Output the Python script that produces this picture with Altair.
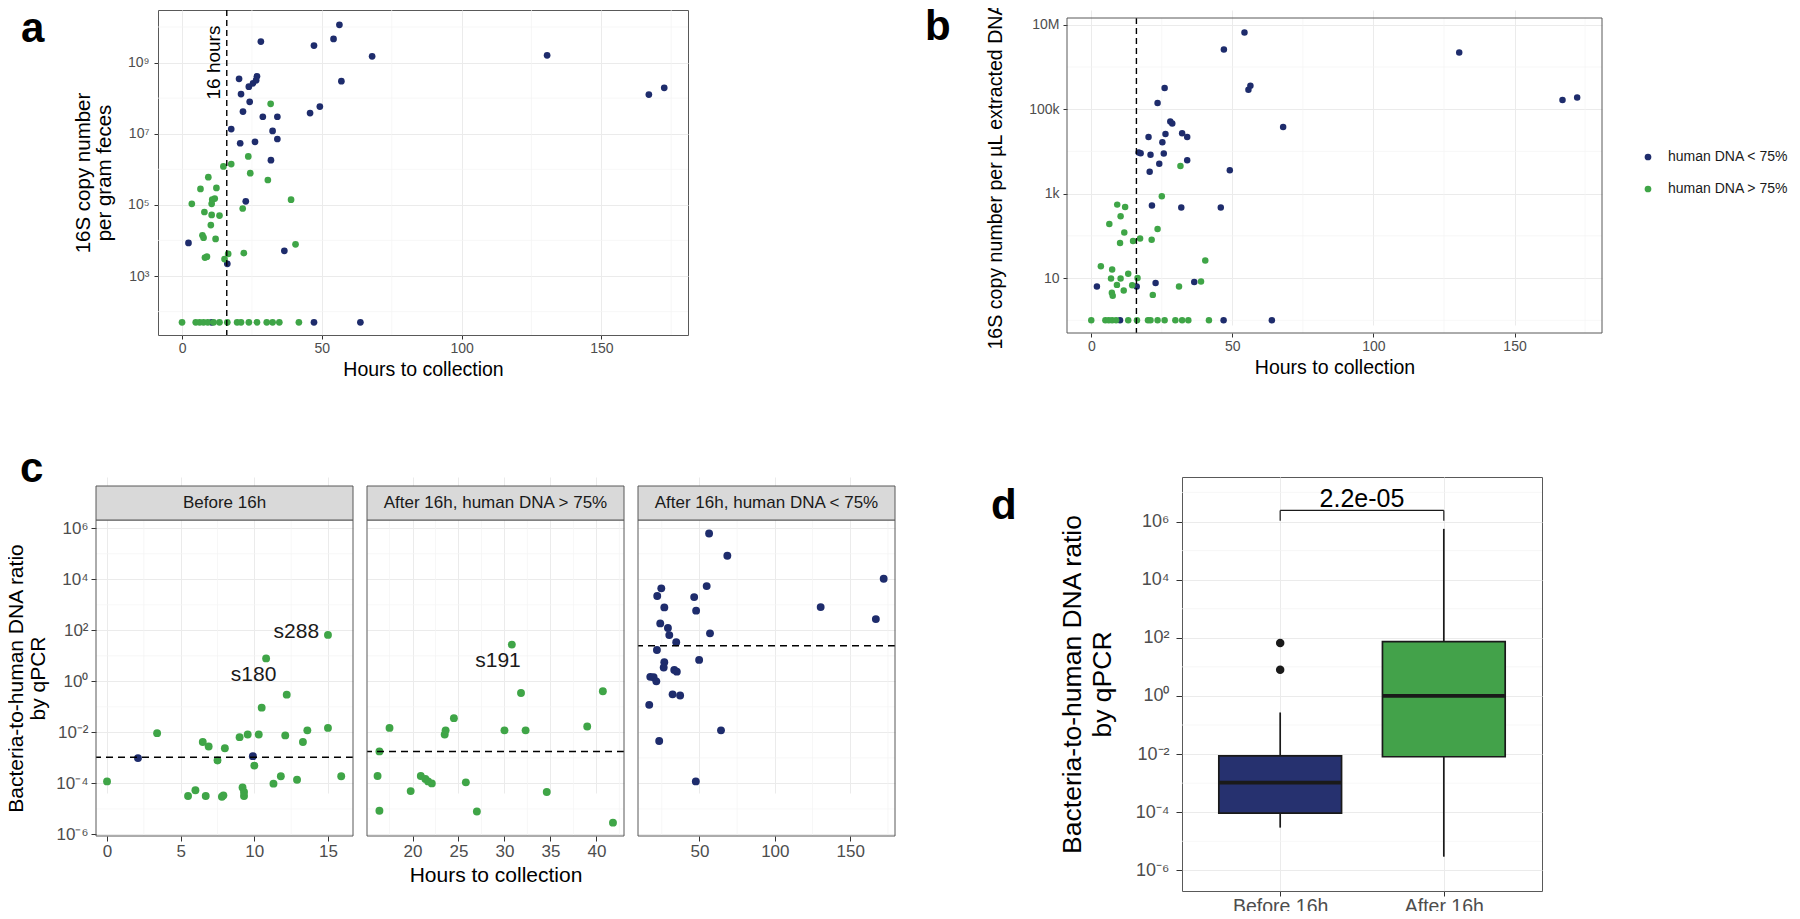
import altair as alt
import pandas as pd

FONT = "Liberation Sans"
BLUE = "#1e2c6c"
GREEN = "#3fa547"
BOX_BLUE = "#26316f"
BOX_GREEN = "#43a24a"
GRID = "#ebebeb"
GRID_MINOR = "#f3f3f3"
FRAME = "#595959"
TEXT_GREY = "#4d4d4d"

# ---------------- panel a : 16S copies per gram feces ----------------
a_blue_hours = [56.3, 28.2, 47.2, 54.2, 68.0, 130.6, 167.0, 172.5, 57.0, 20.4,
                21.1, 23.9, 25.4, 26.5, 26.8, 24.2, 21.8, 49.3, 45.8, 28.9,
                34.1, 17.6, 32.4, 34.1, 20.8, 26.1, 31.8, 22.8, 2.3, 36.6,
                16.2, 47.2, 63.8, 10.6]
a_blue_copies = [1.15e10, 3.9e9, 3.0e9, 4.6e9, 1.5e9, 1.6e9, 1.26e8, 1.95e8, 3.0e8, 3.5e8,
                 1.3e8, 2.1e8, 2.6e8, 3.2e8, 4.1e8, 7.9e7, 4.2e7, 5.8e7, 3.8e7, 3.0e7,
                 3.0e7, 1.35e7, 1.2e7, 7.1e6, 5.4e6, 5.9e6, 1.8e6, 1.26e5, 8.5e3, 5.1e3,
                 2.2e3, 50, 50, 50]
a_green_hours = [31.7, 23.7, 17.6, 14.8, 24.4, 30.7, 9.4, 6.6, 12.3, 3.5,
                 10.8, 11.7, 10.6, 39.0, 21.7, 8.0, 10.6, 13.4, 10.3, 7.3,
                 7.7, 12.0, 40.6, 16.5, 22.1, 8.2, 8.9, 15.2,
                 0.0, 4.9, 6.3, 7.7, 9.2, 11.3, 13.4, 16.2, 19.7, 21.1,
                 23.9, 26.8, 30.3, 32.4, 34.8, 41.8]
a_green_copies = [6.9e7, 2.3e6, 1.4e6, 1.2e6, 7.8e5, 5.0e5, 6.0e5, 2.8e5, 3.0e5, 1.07e5,
                  1.4e5, 1.5e5, 1.07e5, 1.4e5, 7.9e4, 6.3e4, 5.2e4, 5.0e4, 2.7e4, 1.4e4,
                  1.2e4, 1.1e4, 7.8e3, 4.2e3, 4.4e3, 3.3e3, 3.5e3, 3.0e3,
                  50, 50, 50, 50, 50, 50, 50, 50, 50, 50,
                  50, 50, 50, 50, 50, 50]
a_x_ticks = [0, 50, 100, 150]
a_x_minor = [25, 75, 125, 175]
a_y_ticks = [1e3, 1e5, 1e7, 1e9]
a_y_minor = [1e2, 1e4, 1e6, 1e8, 1e10]
cutoff_hours = [16]
a_note_hours = [11.4]
a_note_value = [1e9]
a_note_text = ["16 hours"]

# ---------------- panel b : 16S copies per uL DNA ----------------
b_blue_hours = [54.3, 47.0, 26.0, 23.5, 56.4, 55.7, 68.0, 28.0, 28.7, 32.2,
                34.0, 20.3, 26.3, 25.2, 16.8, 17.5, 21.0, 25.7, 24.1, 34.0,
                20.7, 49.1, 21.5, 31.9, 45.9, 2.0, 16.1, 22.8, 36.5, 130.4,
                167.0, 172.2, 46.9, 64.0, 10.2]
b_blue_copies = [6.6e6, 2.6e6, 3.2e5, 1.4e5, 3.6e5, 2.9e5, 3.8e4, 5.1e4, 4.6e4, 2.7e4,
                 2.2e4, 2.2e4, 2.6e4, 1.66e4, 9.5e3, 9.1e3, 8.3e3, 8.9e3, 5.1e3, 6.2e3,
                 3.3e3, 3.6e3, 525, 468, 468, 6.3, 6.3, 7.6, 8.1, 2.2e6,
                 1.66e5, 1.9e5, 1, 1, 1]
b_green_hours = [31.6, 25.0, 9.2, 12.0, 10.4, 6.4, 23.5, 11.7, 17.3, 14.8,
                 10.2, 21.4, 40.4, 3.4, 7.4, 13.1, 7.0, 16.4, 10.4, 9.1,
                 14.5, 11.5, 7.3, 7.6, 38.9, 31.1, 21.8,
                 0.0, 5.0, 6.2, 7.4, 8.8, 13.1, 16.2, 20.1, 21.0, 23.5,
                 26.0, 29.8, 32.2, 34.4, 41.7]
b_green_copies = [4.5e3, 870, 550, 480, 290, 190, 145, 120, 87, 76,
                  68, 81, 26, 19, 16, 12.6, 9.8, 10, 9.8, 6.9,
                  6.8, 5.1, 4.5, 3.8, 8.3, 6.3, 4.0,
                  1, 1, 1, 1, 1, 1, 1, 1, 1, 1,
                  1, 1, 1, 1, 1]
b_y_ticks = [10, 1e3, 1e5, 1e7]
b_y_minor = [1, 1e2, 1e4, 1e6]
legend_labels = ["human DNA < 75%", "human DNA > 75%"]

# ---------------- panel c : ratio by qPCR, three facets ----------------
c_strip_labels = ["Before 16h", "After 16h, human DNA > 75%", "After 16h, human DNA < 75%"]
c_before_green_hours = [0.0, 3.4, 6.5, 6.9, 7.5, 8.0, 9.0, 9.55, 10.0, 10.3,
                        10.5, 10.8, 12.2, 12.1, 13.3, 13.6, 15.0, 15.0, 15.9, 12.9,
                        11.8, 11.3, 5.5, 6.0, 6.7, 7.8, 7.9, 9.2, 9.3, 9.3]
c_before_green_ratio = [1.2e-4, 9.3e-3, 4.2e-3, 2.8e-3, 7.9e-4, 2.4e-3, 6.5e-3, 8.3e-3, 5.0e-4, 8.3e-3,
                        9.3e-2, 7.9, 0.30, 7.6e-3, 4.2e-3, 1.2e-2, 1.5e-2, 66, 1.9e-4, 1.4e-4,
                        1.9e-4, 9.8e-5, 3.2e-5, 5.4e-5, 3.2e-5, 3.0e-5, 3.4e-5, 6.9e-5, 3.2e-5, 4.6e-5]
c_before_blue_hours = [2.1, 9.9]
c_before_blue_ratio = [9.8e-4, 1.17e-3]
c_after_high_hours = [16.4, 17.5, 16.2, 16.4, 19.8, 20.9, 21.4, 21.7, 22.1, 23.5,
                      23.6, 24.5, 25.8, 27.0, 30.8, 31.8, 30.0, 32.3, 34.6, 39.0,
                      40.7, 41.8]
c_after_high_ratio = [1.8e-3, 1.5e-2, 1.95e-4, 8.5e-6, 5.0e-5, 1.95e-4, 1.5e-4, 1.2e-4, 1.0e-4, 8.3e-3,
                      1.2e-2, 3.6e-2, 1.1e-4, 7.9e-6, 27.5, 0.35, 1.2e-2, 1.2e-2, 4.6e-5, 1.7e-2,
                      0.41, 2.9e-6]
c_after_low_hours = [56.4, 68.5, 172.2, 54.8, 24.7, 22.0, 46.5, 26.7, 130.4, 47.8,
                     24.0, 29.1, 30.0, 167.0, 57.0, 34.6, 21.8, 49.8, 26.7, 26.3,
                     33.3, 35.0, 17.4, 19.6, 21.4, 32.2, 37.2, 16.7, 64.3, 23.3,
                     47.6]
c_after_low_ratio = [6.2e5, 8.3e4, 1.05e4, 5.4e3, 4.4e3, 2.2e3, 2.0e3, 790, 810, 590,
                     186, 123, 65, 275, 76, 34, 17, 6.9, 5.6, 3.5,
                     2.8, 2.4, 1.5, 1.45, 1.0, 0.31, 0.28, 0.12, 1.2e-2, 4.6e-3,
                     1.2e-4]
c_hline = [1.07e-3, 1.78e-3, 25]
c_x_domains = [[-0.75, 16.7], [15.05, 43.0], [9.25, 179.7]]
c_x_ticks = [[0, 5, 10, 15], [20, 25, 30, 35, 40], [50, 100, 150]]
c_x_minor = [[2.5, 7.5, 12.5], [17.5, 22.5, 27.5, 32.5, 37.5, 42.5], [25, 75, 125, 175]]
c_y_ticks = [1e-6, 1e-4, 1e-2, 1, 1e2, 1e4, 1e6]
c_y_minor = [1e-5, 1e-3, 1e-1, 10, 1e3, 1e5]
c_lab1_text = ["s288", "s180"]
c_lab1_hours = [14.4, 9.95]
c_lab1_ratio = [89, 1.8]
c_lab1_align = ["right", "center"]
c_lab2_text = ["s191"]
c_lab2_hours = [29.3]
c_lab2_ratio = [6.5]

# ---------------- panel d : boxplot ----------------
d_groups = ["Before 16h", "After 16h"]
d_pos = [1, 2]
d_low = [2.95e-5, 2.95e-6]
d_q1 = [9.3e-5, 8.1e-3]
d_med = [1.05e-3, 1.0]
d_q3 = [8.7e-3, 74]
d_high = [0.27, 5.6e5]
d_outlier_pos = [1, 1]
d_outlier_val = [66, 7.9]
d_y_minor = [1e-5, 1e-3, 1e-1, 10, 1e3, 1e5, 1e7]
d_bracket_y = [2.4e6]
d_bracket_tip = [1.07e6]
d_pvalue = ["2.2e-05"]
d_pvalue_y = [5.75e6]

SUP_EXPR = ("'10' + (round(log(datum.value) / LN10) < 0 ? '\u207b' : '') + "
            "['\u2070','\u00b9','\u00b2','\u00b3','\u2074','\u2075','\u2076','\u2077','\u2078','\u2079']"
            "[abs(round(log(datum.value) / LN10))]")
SI_EXPR = ("datum.value >= 1e6 ? (datum.value / 1e6) + 'M' : "
           "datum.value >= 1e3 ? (datum.value / 1e3) + 'k' : '' + datum.value")

NO_FRAME = alt.ViewBackground(strokeOpacity=0)


def make_axis(values, title=None, labels=True, ticks=True, label_size=14, title_size=19.5,
              tick_size=4, label_padding=3, title_padding=5, label_expr=None, line_height=None):
    kw = dict(values=values, grid=True, gridColor=GRID, gridWidth=1, domain=False,
              ticks=ticks, tickColor="#333333", tickSize=tick_size, tickWidth=1,
              labels=labels, labelFontSize=label_size, labelColor=TEXT_GREY,
              labelPadding=label_padding, labelFlush=False, labelOverlap=False,
              titleFontSize=title_size, titleFontWeight="normal", titleColor="#000000",
              titlePadding=title_padding, title=title)
    if label_expr:
        kw["labelExpr"] = label_expr
    if line_height:
        kw["titleLineHeight"] = line_height
    return alt.Axis(**kw)


def pts(hours, vals, color, size, xs, ys, xax, yax):
    df = pd.DataFrame({"hours": hours, "value": vals})
    return alt.Chart(df).mark_circle(size=size, opacity=1, color=color).encode(
        x=alt.X("hours:Q", scale=xs, axis=xax),
        y=alt.Y("value:Q", scale=ys, axis=yax))


def vrules(vals, xs, xax, color, width, dash=None, span=None):
    mk = dict(color=color, strokeWidth=width)
    if dash:
        mk["strokeDash"] = dash
    enc = dict(x=alt.X("v:Q", scale=xs, axis=xax))
    if span:
        enc["y"] = alt.value(span[0])
        enc["y2"] = alt.value(span[1])
    return alt.Chart(pd.DataFrame({"v": vals})).mark_rule(**mk).encode(**enc)


def hrules(vals, ys, yax, color, width, dash=None):
    mk = dict(color=color, strokeWidth=width)
    if dash:
        mk["strokeDash"] = dash
    return alt.Chart(pd.DataFrame({"v": vals})).mark_rule(**mk).encode(
        y=alt.Y("v:Q", scale=ys, axis=yax))


def letter(t, x, y):
    return alt.Chart(pd.DataFrame({"t": [t]})).mark_text(
        fontSize=42, fontWeight="bold", color="#000000", align="left",
        baseline="alphabetic").encode(text="t:N", x=alt.value(x), y=alt.value(y))


def frame(x0, x1, y0, y1, fill=None):
    mk = dict(stroke=FRAME, strokeWidth=1)
    if fill:
        mk["fill"] = fill
    else:
        mk["fillOpacity"] = 0
    return alt.Chart(pd.DataFrame({"f": [0]})).mark_rect(**mk).encode(
        x=alt.value(x0), x2=alt.value(x1), y=alt.value(y0), y2=alt.value(y1))


def anchor(x0, y0, x1, y1):
    # invisible diagonal that fixes the layout bounds of a panel
    return alt.Chart(pd.DataFrame({"f": [0]})).mark_rule(opacity=0, strokeWidth=0.01).encode(
        x=alt.value(x0), x2=alt.value(x1), y=alt.value(y0), y2=alt.value(y1))


# ---------- panel a : plot at page (157..687, 10..335) ----------
xs_a = alt.Scale(domain=[-8.6, 181], nice=False, zero=False)
ys_a = alt.Scale(type="log", domain=[22, 3.0e10], nice=False)
xax_a = make_axis(a_x_ticks, title="Hours to collection", label_padding=2, title_padding=5)
yax_a = make_axis(a_y_ticks, title=["16S copy number", "per gram feces"], label_padding=5,
                  title_size=20.5, title_padding=13, label_expr=SUP_EXPR, line_height=21)
note_a = alt.Chart(pd.DataFrame({"hours": a_note_hours, "value": a_note_value, "label": a_note_text})
                   ).mark_text(angle=270, fontSize=19, color="#000000", align="center",
                               baseline="middle").encode(
    x=alt.X("hours:Q", scale=xs_a, axis=xax_a), y=alt.Y("value:Q", scale=ys_a, axis=yax_a),
    text="label:N")
panel_a = alt.layer(
    anchor(-149, -2, 530, 390),
    vrules(a_x_minor, xs_a, xax_a, GRID_MINOR, 0.7),
    hrules(a_y_minor, ys_a, yax_a, GRID_MINOR, 0.7),
    pts(a_blue_hours, a_blue_copies, BLUE, 45, xs_a, ys_a, xax_a, yax_a),
    pts(a_green_hours, a_green_copies, GREEN, 45, xs_a, ys_a, xax_a, yax_a),
    vrules(cutoff_hours, xs_a, xax_a, "#000000", 1.4, dash=[6, 4]),
    note_a,
    letter("a", -137, 32),
).properties(width=530, height=325)

# ---------- panel b : view at page (1065..1600, 10..333), plot from y 18 ----------
B_W, B_H, B_TOP = 535, 323, 8
xs_b = alt.Scale(domain=[-8.6, 181], nice=False, zero=False)
ys_b = alt.Scale(type="log", domain=[0.5, 1.45e7], nice=False, range=[B_H, B_TOP])
xax_b = make_axis(a_x_ticks, title="Hours to collection", label_padding=2, title_padding=5)
yax_b = make_axis(b_y_ticks, title="16S copy number per \u00b5L extracted DNA", label_padding=4,
                  title_padding=23, title_size=19.6, label_expr=SI_EXPR)
b_df = pd.DataFrame({
    "hours": b_blue_hours + b_green_hours,
    "value": b_blue_copies + b_green_copies,
    "status": [legend_labels[0]] * len(b_blue_hours) + [legend_labels[1]] * len(b_green_hours),
})
b_points = alt.Chart(b_df).mark_circle(size=42, opacity=1).encode(
    x=alt.X("hours:Q", scale=xs_b, axis=xax_b),
    y=alt.Y("value:Q", scale=ys_b, axis=yax_b),
    color=alt.Color("status:N", scale=alt.Scale(domain=legend_labels, range=[BLUE, GREEN]),
                    legend=alt.Legend(title=None, orient="none", legendX=1545, legendY=140,
                                      symbolType="circle", symbolSize=45, symbolStrokeWidth=0,
                                      labelFontSize=14, labelColor="#1a1a1a", rowPadding=18,
                                      labelOffset=13, padding=0, labelFont=FONT)))
panel_b = alt.layer(
    anchor(-467, -2, 535, 390),
    vrules(a_x_minor, xs_b, xax_b, GRID_MINOR, 0.7, span=[B_TOP, B_H]),
    hrules(b_y_minor, ys_b, yax_b, GRID_MINOR, 0.7),
    b_points,
    vrules(cutoff_hours, xs_b, xax_b, "#000000", 1.4, dash=[6, 4], span=[B_TOP, B_H]),
    frame(0, B_W, B_TOP, B_H),
    letter("b", -142, 30),
).properties(width=B_W, height=B_H, view=NO_FRAME)

# ---------- panel c : views at page y 478..837 (strip 487..521, plot 521..837) ----------
C_W, C_H, STRIP_TOP, PLOT_TOP = 257, 359, 9, 43
ys_c = alt.Scale(type="log", domain=[8.7e-7, 2.1e6], nice=False, range=[C_H, PLOT_TOP])
yax_c1 = make_axis(c_y_ticks, title=["Bacteria-to-human DNA ratio", "by qPCR"], label_size=17,
                   title_size=21, tick_size=5, label_padding=3, title_padding=7,
                   label_expr=SUP_EXPR, line_height=22)
yax_cn = make_axis(c_y_ticks, title=None, labels=False, ticks=False)

c_panels = []
for i in range(3):
    xs = alt.Scale(domain=c_x_domains[i], nice=False, zero=False)
    xax = make_axis(c_x_ticks[i], title=("Hours to collection" if i == 1 else None),
                    label_size=17, title_size=21, tick_size=5, label_padding=2, title_padding=5)
    yax = yax_c1 if i == 0 else yax_cn
    layers = [anchor(-88 if i == 0 else 0, -38, C_W, C_H),
              vrules(c_x_minor[i], xs, xax, GRID_MINOR, 0.7, span=[PLOT_TOP, C_H]),
              hrules(c_y_minor, ys_c, yax, GRID_MINOR, 0.7)]
    if i == 0:
        layers += [pts(c_before_green_hours, c_before_green_ratio, GREEN, 62, xs, ys_c, xax, yax),
                   pts(c_before_blue_hours, c_before_blue_ratio, BLUE, 62, xs, ys_c, xax, yax)]
        lab = pd.DataFrame({"hours": c_lab1_hours, "value": c_lab1_ratio, "label": c_lab1_text,
                            "al": c_lab1_align})
        for al in ["right", "center"]:
            layers.append(alt.Chart(lab[lab.al == al]).mark_text(
                fontSize=21, color="#1a1a1a", align=al, baseline="middle").encode(
                x=alt.X("hours:Q", scale=xs, axis=xax), y=alt.Y("value:Q", scale=ys_c, axis=yax),
                text="label:N"))
    elif i == 1:
        layers += [pts(c_after_high_hours, c_after_high_ratio, GREEN, 62, xs, ys_c, xax, yax)]
        lab = pd.DataFrame({"hours": c_lab2_hours, "value": c_lab2_ratio, "label": c_lab2_text})
        layers.append(alt.Chart(lab).mark_text(
            fontSize=21, color="#1a1a1a", align="center", baseline="middle").encode(
            x=alt.X("hours:Q", scale=xs, axis=xax), y=alt.Y("value:Q", scale=ys_c, axis=yax),
            text="label:N"))
    else:
        layers += [pts(c_after_low_hours, c_after_low_ratio, BLUE, 62, xs, ys_c, xax, yax)]
    layers.append(hrules([c_hline[i]], ys_c, yax, "#000000", 1.5, dash=[7, 5]))
    layers.append(frame(0, C_W, PLOT_TOP, C_H))
    layers.append(frame(0, C_W, STRIP_TOP, PLOT_TOP, fill="#d9d9d9"))
    layers.append(alt.Chart(pd.DataFrame({"label": [c_strip_labels[i]]})).mark_text(
        fontSize=17, color="#1a1a1a", baseline="middle", align="center").encode(
        text="label:N", x=alt.value(C_W / 2), y=alt.value((STRIP_TOP + PLOT_TOP) / 2)))
    if i == 0:
        layers.append(letter("c", -76, 5))
    c_panels.append(alt.layer(*layers).properties(width=C_W, height=C_H, view=NO_FRAME))

# ---------- panel d : plot at page (1179..1539, 478..892) ----------
xs_d = alt.Scale(domain=[0.4, 2.6], nice=False, zero=False)
ys_d = alt.Scale(type="log", domain=[1.95e-7, 3.4e7], nice=False)
xax_d = make_axis(d_pos, title=None, label_size=19.5, tick_size=5, label_padding=1,
                  label_expr="datum.value == 1 ? 'Before 16h' : 'After 16h'")
yax_d = make_axis(c_y_ticks, title=["Bacteria-to-human DNA ratio", "by qPCR"], label_size=18,
                  title_size=26.5, tick_size=6, label_padding=7, title_padding=19,
                  label_expr=SUP_EXPR, line_height=30)
d_df = pd.DataFrame({"group": d_groups, "pos": d_pos, "low": d_low, "q1": d_q1,
                     "med": d_med, "q3": d_q3, "high": d_high})
d_base = alt.Chart(d_df).transform_calculate(x_lo="datum.pos - 0.375", x_hi="datum.pos + 0.375")
whisk_lo = d_base.mark_rule(color="#1a1a1a", strokeWidth=1.7).encode(
    x=alt.X("pos:Q", scale=xs_d, axis=xax_d), y=alt.Y("low:Q", scale=ys_d, axis=yax_d), y2="q1:Q")
whisk_hi = d_base.mark_rule(color="#1a1a1a", strokeWidth=1.7).encode(
    x=alt.X("pos:Q", scale=xs_d, axis=xax_d), y=alt.Y("q3:Q", scale=ys_d, axis=yax_d), y2="high:Q")


def box(group, fill):
    return d_base.transform_filter(alt.datum.group == group).mark_bar(
        color=fill, stroke="#1a1a1a", strokeWidth=1.7).encode(
        x=alt.X("x_lo:Q", scale=xs_d, axis=xax_d), x2="x_hi:Q",
        y=alt.Y("q1:Q", scale=ys_d, axis=yax_d), y2="q3:Q")


median = d_base.mark_rule(color="#1a1a1a", strokeWidth=3.8).encode(
    x=alt.X("x_lo:Q", scale=xs_d, axis=xax_d), x2="x_hi:Q",
    y=alt.Y("med:Q", scale=ys_d, axis=yax_d))
outl = alt.Chart(pd.DataFrame({"pos": d_outlier_pos, "val": d_outlier_val})).mark_circle(
    size=72, opacity=1, color="#1a1a1a").encode(
    x=alt.X("pos:Q", scale=xs_d, axis=xax_d), y=alt.Y("val:Q", scale=ys_d, axis=yax_d))
br_df = pd.DataFrame({"x1": [d_pos[0]], "x2": [d_pos[1]], "y": d_bracket_y})
br_h = alt.Chart(br_df).mark_rule(color="#1a1a1a", strokeWidth=1.2).encode(
    x=alt.X("x1:Q", scale=xs_d, axis=xax_d), x2="x2:Q", y=alt.Y("y:Q", scale=ys_d, axis=yax_d))
br_v = alt.Chart(pd.DataFrame({"x": d_pos, "y": d_bracket_y * 2, "tip": d_bracket_tip * 2})
                 ).mark_rule(color="#1a1a1a", strokeWidth=1.2).encode(
    x=alt.X("x:Q", scale=xs_d, axis=xax_d), y=alt.Y("y:Q", scale=ys_d, axis=yax_d), y2="tip:Q")
ptext = alt.Chart(pd.DataFrame({"x": [(d_pos[0] + d_pos[1]) / 2], "y": d_pvalue_y,
                                "label": d_pvalue})).mark_text(
    fontSize=25, color="#000000", baseline="middle").encode(
    x=alt.X("x:Q", scale=xs_d, axis=xax_d), y=alt.Y("y:Q", scale=ys_d, axis=yax_d), text="label:N")

panel_d = alt.layer(
    anchor(-219, -38, 360, 414),
    hrules(d_y_minor, ys_d, yax_d, GRID_MINOR, 0.7),
    whisk_lo, whisk_hi,
    box(d_groups[0], BOX_BLUE), box(d_groups[1], BOX_GREEN),
    median, outl, br_h, br_v, ptext,
    letter("d", -191, 42),
).properties(width=360, height=414)

# ---------- layout ----------
lead = alt.Chart(pd.DataFrame({"f": [0]})).mark_rule(opacity=0, strokeWidth=0.01).encode(
    x=alt.value(0), x2=alt.value(1), y=alt.value(0), y2=alt.value(1)
).properties(width=1, height=1, view=NO_FRAME)

row1 = alt.hconcat(lead, panel_a, panel_b, spacing=-89)
row2 = alt.hconcat(alt.hconcat(*c_panels, spacing=12), panel_d, spacing=66)

chart = alt.vconcat(row1, row2, spacing=37).properties(
    padding={"left": 88, "top": 2, "right": 1696, "bottom": 901},
    autosize=alt.AutoSizeParams(type="none"),
).configure(font=FONT).configure_view(
    stroke=FRAME, strokeWidth=1
).configure_axis(labelFont=FONT, titleFont=FONT).configure_text(font=FONT)

chart.save("out.html", embed_options={"renderer": "svg", "actions": False})
